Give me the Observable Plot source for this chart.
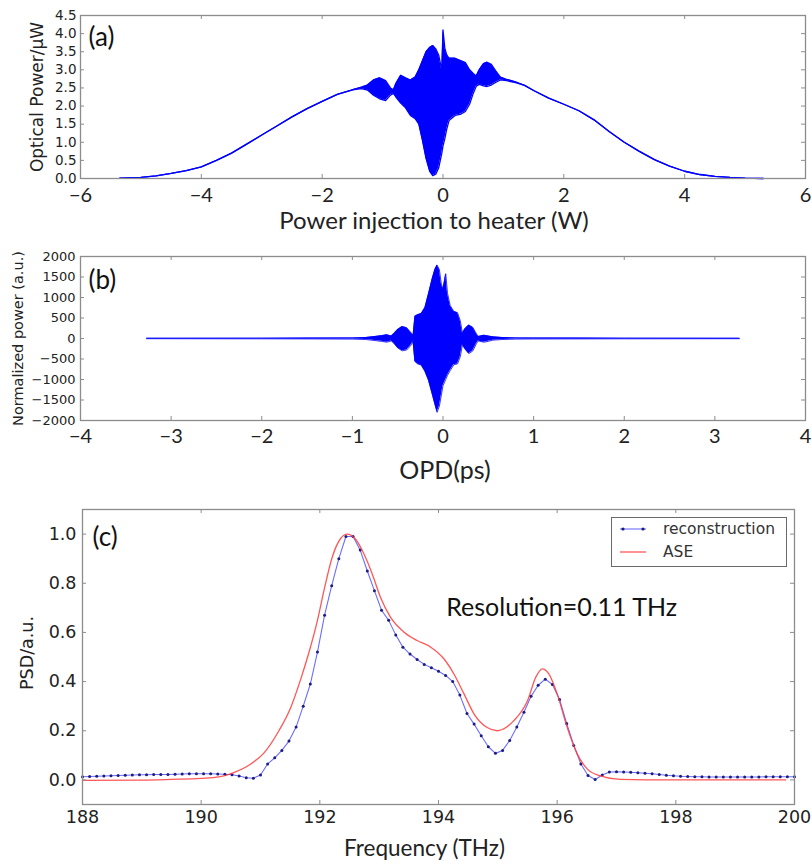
<!DOCTYPE html>
<html><head><meta charset="utf-8">
<script src="https://cdn.jsdelivr.net/npm/d3@7"></script>
<script src="https://cdn.jsdelivr.net/npm/@observablehq/plot@0.6"></script>
<style>
body{margin:0;background:#fff;}
#wrap{position:relative;width:812px;height:864px;background:#fff;overflow:hidden;}
#wrap > svg, #wrap > figure{position:absolute;left:0;margin:0;}
#legend{position:absolute;left:611px;top:517px;width:176px;height:50px;box-sizing:border-box;border:1px solid #6a6a6a;background:#fff;}
</style></head>
<body><div id="wrap"></div>
<script>
// ---------- Panel (a): optical power vs heater power (envelope) ----------
const aX    = [-5.35,-5.0,-4.75,-4.5,-4.25,-4.0,-3.75,-3.5,-3.25,-3.0,-2.75,-2.5,-2.25,-2.0,-1.75,-1.5,-1.35,
               -1.25,-1.15,-1.05,-0.95,-0.87,-0.82,
               -0.78,-0.7,-0.62,-0.54,-0.46,-0.4,-0.34,-0.28,-0.22,-0.17,-0.12,-0.07,-0.02,0.0,0.03,0.06,0.1,0.2,0.3,0.37,0.44,0.5,0.55,
               0.6,0.67,0.73,0.8,0.87,0.95,
               1.05,1.2,1.35,1.5,1.75,2.0,2.25,2.5,2.75,3.0,3.25,3.5,3.75,4.0,4.25,4.5,4.75,5.0,5.3];
const aLow  = [0.01,0.03,0.07,0.14,0.22,0.32,0.5,0.7,0.95,1.2,1.45,1.7,1.93,2.13,2.32,2.45,2.48,
               2.44,2.3,2.2,2.15,2.3,2.35,
               2.25,2.08,1.95,1.74,1.65,1.5,1.05,0.55,0.2,0.08,0.12,0.3,0.7,0.9,1.1,1.35,1.6,1.74,1.78,1.85,2.05,2.35,2.55,
               2.6,2.56,2.54,2.58,2.65,2.72,
               2.7,2.65,2.57,2.43,2.22,2.05,1.87,1.62,1.3,1.0,0.75,0.52,0.34,0.2,0.11,0.06,0.03,0.01,0.0];
const aHigh = [0.01,0.03,0.07,0.14,0.22,0.32,0.5,0.7,0.95,1.2,1.45,1.7,1.93,2.13,2.32,2.45,2.52,
               2.58,2.72,2.78,2.7,2.5,2.45,
               2.62,2.85,2.78,2.72,2.8,3.0,3.25,3.5,3.62,3.67,3.58,3.4,2.98,4.1,3.6,3.42,3.32,3.32,3.25,3.2,3.0,2.9,2.83,
               3.0,3.17,3.21,3.15,2.98,2.8,
               2.74,2.67,2.57,2.43,2.22,2.05,1.87,1.62,1.3,1.0,0.75,0.52,0.34,0.2,0.11,0.06,0.03,0.01,0.0];
const aXTicks = [-6,-4,-2,0,2,4,6];
const aXTickLabels = ["\u22126","\u22124","\u22122","0","2","4","6"];
const aYTicks = [0,0.5,1,1.5,2,2.5,3,3.5,4,4.5];
const aYTickLabels = ["0.0","0.5","1.0","1.5","2.0","2.5","3.0","3.5","4.0","4.5"];

// ---------- Panel (b): interferogram envelope ----------
const bX    = [-3.27,-2.0,-1.5,-1.0,-0.85,-0.75,-0.68,-0.62,-0.57,-0.54,-0.5,-0.45,-0.4,-0.36,-0.33,
               -0.31,-0.28,-0.24,-0.2,-0.16,-0.12,-0.09,-0.065,-0.04,-0.02,0.0,0.03,0.05,0.08,0.12,0.16,0.19,
               0.215,0.24,0.285,0.33,0.37,0.39,0.45,0.5,0.55,0.65,0.8,1.0,1.5,2.0,3.27];
const bLow  = [-5,-8,-10,-15,-25,-50,-70,-90,-60,-120,-230,-300,-280,-180,-80,
               -560,-620,-650,-800,-1020,-1350,-1600,-1800,-1650,-1400,-1150,-1000,-900,-780,-640,-620,-450,
               -150,-250,-370,-300,-120,-60,-90,-70,-40,-25,-15,-12,-10,-8,-5];
const bHigh = [5,8,10,15,25,50,70,90,60,120,220,290,260,160,80,
               540,580,610,750,1090,1450,1680,1790,1680,1350,1200,1580,1100,800,660,630,440,
               130,230,330,270,110,50,80,60,40,25,15,12,10,8,5];
const bXTicks = [-4,-3,-2,-1,0,1,2,3,4];
const bXTickLabels = ["\u22124","\u22123","\u22122","\u22121","0","1","2","3","4"];
const bYTicks = [-2000,-1500,-1000,-500,0,500,1000,1500,2000];
const bYTickLabels = ["\u22122000","\u22121500","\u22121000","\u2212500","0","500","1000","1500","2000"];

// ---------- Panel (c): PSD ----------
const recFreq = [188.00,188.12,188.24,188.36,188.48,188.60,188.72,188.84,188.96,189.08,
                 189.20,189.32,189.44,189.56,189.68,189.80,189.92,190.04,190.16,190.28,
                 190.40,190.52,190.64,190.76,190.88,191.00,191.12,191.24,191.36,191.48,
                 191.60,191.72,191.84,191.96,192.08,192.20,192.32,192.44,192.56,192.68,
                 192.80,192.92,193.04,193.16,193.28,193.40,193.52,193.64,193.76,193.88,
                 194.00,194.12,194.24,194.36,194.48,194.60,194.72,194.84,194.96,195.08,
                 195.20,195.32,195.44,195.56,195.68,195.80,195.92,196.04,196.16,196.28,
                 196.40,196.52,196.64,196.76,196.88,197.00,197.12,197.24,197.36,197.48,
                 197.60,197.72,197.84,197.96,198.08,198.20,198.32,198.44,198.56,198.68,
                 198.80,198.92,199.04,199.16,199.28,199.40,199.52,199.64,199.76,199.88,
                 200.00];
const recPSD  = [0.013,0.014,0.015,0.016,0.017,0.018,0.019,0.020,0.021,0.021,
                 0.022,0.022,0.022,0.023,0.024,0.025,0.025,0.025,0.025,0.024,
                 0.023,0.021,0.016,0.009,0.007,0.020,0.065,0.090,0.120,0.158,
                 0.215,0.300,0.390,0.520,0.670,0.790,0.900,0.990,0.990,0.935,
                 0.850,0.770,0.690,0.649,0.590,0.540,0.512,0.490,0.470,0.456,
                 0.442,0.425,0.400,0.345,0.270,0.227,0.180,0.135,0.108,0.120,
                 0.160,0.215,0.275,0.340,0.385,0.410,0.388,0.327,0.230,0.140,
                 0.065,0.018,0.002,0.020,0.032,0.033,0.032,0.031,0.029,0.027,
                 0.025,0.022,0.019,0.017,0.015,0.014,0.013,0.013,0.012,0.012,
                 0.012,0.012,0.012,0.012,0.012,0.012,0.013,0.013,0.013,0.013,
                 0.013];
const aseFreq = [188.0,189.0,189.5,190.0,190.3,190.55,190.83,191.06,191.31,191.51,191.67,191.81,191.96,192.07,
                 192.21,192.35,192.46,192.6,192.74,192.88,193.02,193.19,193.42,193.64,193.87,194.09,194.26,
                 194.43,194.6,194.82,194.99,195.15,195.27,195.5,195.64,195.75,195.86,196.0,196.17,196.34,
                 196.51,196.73,197.07,197.5,199.85];
const asePSD  = [-0.002,-0.001,0.002,0.006,0.012,0.03,0.064,0.11,0.2,0.295,0.404,0.513,0.649,0.771,
                 0.907,0.982,1.0,0.98,0.921,0.84,0.744,0.662,0.601,0.567,0.54,0.493,0.431,
                 0.35,0.268,0.213,0.2,0.215,0.241,0.322,0.418,0.452,0.431,0.35,0.213,0.105,
                 0.044,0.016,0.002,0.0,0.0];
const cXTicks = [188,190,192,194,196,198,200];
const cXTickLabels = ["188","190","192","194","196","198","200"];
const cYTicks = [0,0.2,0.4,0.6,0.8,1.0];
const cYTickLabels = ["0.0","0.2","0.4","0.6","0.8","1.0"];
const resText = "Resolution=0.11 THz";
const resPos = {x: 194.13, y: 0.70};
const legendNames = ["reconstruction", "ASE"];

// ---------- styling ----------
const LATO = "Lato, 'Open Sans', sans-serif";
const DJV = "'DejaVu Sans', sans-serif";
const INK = "#222";
const FRAME = "#8c8c8c";
const BLUE = "#0000ff";
const W = 812;

function decor(fw, fh, xTicks, yTicks) {
  const st = {stroke: FRAME, strokeWidth: 1};
  return [
    Plot.tickX(xTicks, {x: d => d, insetTop: fh - 4, ...st}),
    Plot.tickX(xTicks, {x: d => d, insetBottom: fh - 4, ...st}),
    Plot.tickY(yTicks, {y: d => d, insetRight: fw - 4, ...st}),
    Plot.tickY(yTicks, {y: d => d, insetLeft: fw - 4, ...st}),
    Plot.frame({stroke: FRAME, strokeWidth: 1.3})
  ];
}
function labelMap(ticks, labels) { return new Map(ticks.map((t, i) => [t, labels[i]])); }
function xTitle(t, dy, dx, size) {
  return Plot.text([t], {text: d => d, frameAnchor: "bottom", dy, dx, textAnchor: "middle", lineAnchor: "middle", fontSize: size, fontFamily: LATO, fill: INK});
}
function yTitle(t, dx, dy, size) {
  return Plot.text([t], {text: d => d, frameAnchor: "left", dx, dy, rotate: -90, textAnchor: "middle", lineAnchor: "middle", fontSize: size, fontFamily: DJV, fill: INK});
}
function tag(t, dx, dy) {
  return Plot.text([t], {text: d => d, frameAnchor: "top-left", dx, dy, textAnchor: "start", lineAnchor: "middle", fontSize: 26, fontFamily: LATO, fill: "#111"});
}

function place(el, top) { el.style.top = top + "px"; document.getElementById("wrap").appendChild(el); }

// Panel (a)
{
  const data = aX.map((x, i) => ({x, lo: aLow[i], hi: aHigh[i]}));
  const mt = 15, mb = 62, ml = 80, mr = 7, h = 240;
  const xm = labelMap(aXTicks, aXTickLabels), ym = labelMap(aYTicks, aYTickLabels);
  const p = Plot.plot({
    width: W, height: h, marginTop: mt, marginBottom: mb, marginLeft: ml, marginRight: mr,
    x: {domain: [-6, 6]}, y: {domain: [0, 4.5]},
    style: {background: "transparent", overflow: "visible"},
    marks: [
      Plot.area(data, {x1: "x", y1: "lo", y2: "hi", fill: BLUE}),
      Plot.line(data, {x: "x", y: "hi", stroke: BLUE, strokeWidth: 1.3}),
      Plot.line(data, {x: "x", y: "lo", stroke: BLUE, strokeWidth: 1.3}),
      ...decor(W - ml - mr, h - mt - mb, aXTicks, aYTicks),
      Plot.axisX({ticks: aXTicks, tickSize: 0, tickPadding: 9, tickFormat: d => xm.get(d), fontSize: 20, fontFamily: LATO, fill: INK, label: null}),
      Plot.axisY({ticks: aYTicks, tickSize: 0, tickPadding: 4, tickFormat: d => ym.get(d), fontSize: 13.5, fontFamily: DJV, fill: INK, label: null}),
      xTitle("Power injection to heater (W)", 43, -9, 24),
      yTitle("Optical Power/\u03bcW", -43, 0, 17),
      tag("(a)", 8, 22.5)
    ]
  });
  place(p, 0);
}

// Panel (b)
{
  const data = bX.map((x, i) => ({x, lo: bLow[i], hi: bHigh[i]}));
  const mt = 26, mb = 60, ml = 80, mr = 7, h = 250;
  const xm = labelMap(bXTicks, bXTickLabels), ym = labelMap(bYTicks, bYTickLabels);
  const p = Plot.plot({
    width: W, height: h, marginTop: mt, marginBottom: mb, marginLeft: ml, marginRight: mr,
    x: {domain: [-4, 4]}, y: {domain: [-2000, 2000]},
    style: {background: "transparent", overflow: "visible"},
    marks: [
      Plot.area(data, {x1: "x", y1: "lo", y2: "hi", fill: BLUE}),
      Plot.line(data, {x: "x", y: "hi", stroke: BLUE, strokeWidth: 0.8}),
      Plot.line(data, {x: "x", y: "lo", stroke: BLUE, strokeWidth: 0.8}),
      ...decor(W - ml - mr, h - mt - mb, bXTicks, bYTicks),
      Plot.axisX({ticks: bXTicks, tickSize: 0, tickPadding: 8, tickFormat: d => xm.get(d), fontSize: 20, fontFamily: LATO, fill: INK, label: null}),
      Plot.axisY({ticks: bYTicks, tickSize: 0, tickPadding: 5, tickFormat: d => ym.get(d), fontSize: 13, fontFamily: DJV, fill: INK, label: null}),
      xTitle("OPD(ps)", 50, 2, 25),
      yTitle("Normalized power (a.u.)", -62, 0, 14.5),
      tag("(b)", 8, 24)
    ]
  });
  place(p, 230);
}

// Panel (c)
{
  const rec = recFreq.map((f, i) => ({f, p: recPSD[i]}));
  const ase = aseFreq.map((f, i) => ({f, p: asePSD[i]}));
  const mt = 29, mb = 60, ml = 82, mr = 18, h = 384;
  const xm = labelMap(cXTicks, cXTickLabels), ym = labelMap(cYTicks, cYTickLabels);
  const p = Plot.plot({
    width: W, height: h, marginTop: mt, marginBottom: mb, marginLeft: ml, marginRight: mr,
    x: {domain: [188, 200]}, y: {domain: [-0.1, 1.1]},
    style: {background: "transparent", overflow: "visible"},
    marks: [
      Plot.line(rec, {x: "f", y: "p", stroke: "#6d6dff", strokeWidth: 1.1}),
      Plot.dot(rec, {x: "f", y: "p", r: 1.5, fill: "#1b1b80", stroke: null}),
      Plot.line(ase, {x: "f", y: "p", stroke: "#ff3a3a", strokeOpacity: 0.85, strokeWidth: 1.3, curve: "monotone-x"}),
      ...decor(W - ml - mr, h - mt - mb, cXTicks, cYTicks),
      Plot.axisX({ticks: cXTicks, tickSize: 0, tickPadding: 6, tickFormat: d => xm.get(d), fontSize: 17.5, fontFamily: DJV, fill: INK, label: null}),
      Plot.axisY({ticks: cYTicks, tickSize: 0, tickPadding: 6, tickFormat: d => ym.get(d), fontSize: 17.5, fontFamily: DJV, fill: INK, label: null}),
      xTitle("Frequency (THz)", 44, -14, 22.5),
      yTitle("PSD/a.u.", -55, -4, 17.5),
      tag("(c)", 10, 28),
      Plot.text([resText], {text: d => d, x: [resPos.x], y: [resPos.y], textAnchor: "start", lineAnchor: "middle", fontSize: 25, fontFamily: LATO, fill: "#111"})
    ]
  });
  place(p, 480);
}

// Legend for panel (c)
{
  const ns = "http://www.w3.org/2000/svg";
  const div = document.createElement("div");
  div.id = "legend";
  const svg = document.createElementNS(ns, "svg");
  svg.setAttribute("width", 174); svg.setAttribute("height", 48);
  svg.style.display = "block";
  const mk = (tag, attrs) => { const e = document.createElementNS(ns, tag); for (const k in attrs) e.setAttribute(k, attrs[k]); svg.appendChild(e); return e; };
  mk("line", {x1: 8, x2: 34, y1: 11, y2: 11, stroke: "#6d6dff", "stroke-width": 1.1});
  mk("circle", {cx: 11, cy: 11, r: 1.6, fill: "#1b1b80"});
  mk("circle", {cx: 31, cy: 11, r: 1.6, fill: "#1b1b80"});
  mk("line", {x1: 8, x2: 34, y1: 34, y2: 34, stroke: "#ff3a3a", "stroke-opacity": 0.85, "stroke-width": 1.3});
  legendNames.forEach((n, i) => {
    const t = mk("text", {x: 51, y: i === 0 ? 11 : 34, "dominant-baseline": "central", "font-family": "DejaVu Sans, sans-serif", "font-size": 15.5, fill: "#333"});
    t.textContent = n;
  });
  div.appendChild(svg);
  document.getElementById("wrap").appendChild(div);
}
</script>
</body></html>
